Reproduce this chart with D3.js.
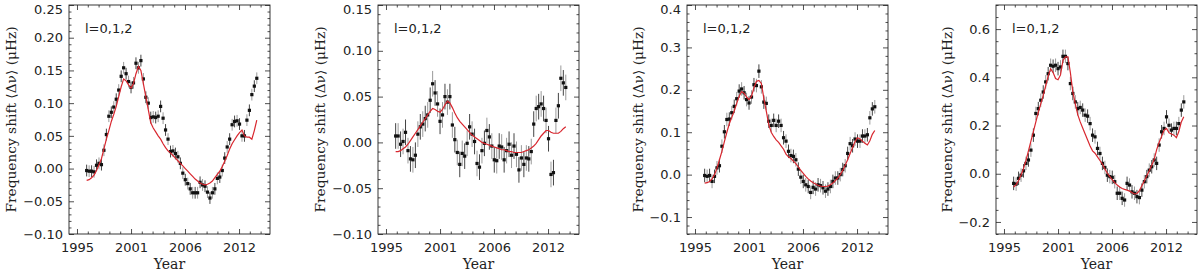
<!DOCTYPE html>
<html><head><meta charset="utf-8">
<script src="https://cdn.jsdelivr.net/npm/d3@7"></script>
<style>body{margin:0;background:#fff}svg{display:block}</style>
</head><body>
<svg id="c" width="1200" height="271"></svg>
<script>
// ---------- data ----------
const years = [1996.75,1997.00,1997.25,1997.50,1997.75,1998.00,1998.25,1998.50,1998.75,1999.00,
1999.25,1999.50,1999.75,2000.00,2000.25,2000.50,2000.75,2001.00,2001.25,2001.50,
2001.75,2002.00,2002.25,2002.50,2002.75,2003.00,2003.25,2003.50,2003.75,2004.00,
2004.25,2004.50,2004.75,2005.00,2005.25,2005.50,2005.75,2006.00,2006.25,2006.50,
2006.75,2007.00,2007.25,2007.50,2007.75,2008.00,2008.25,2008.50,2008.75,2009.00,
2009.25,2009.50,2009.75,2010.00,2010.25,2010.50,2010.75,2011.00,2011.25,2011.50,
2011.75,2012.00,2012.25,2012.50,2012.75,2013.00,2013.25,2013.50,2013.75,2014.00];

const xTickYears = [1995.77, 2001.25, 2006.72, 2012.20];
const xTickLabels = ["1995", "2001", "2006", "2012"];
const xMinorStep = 1.0951;
const xDomain = [1994.96, 2015.34];

const shift1 = [-0.003,-0.004,-0.004,-0.005,0.005,0.008,0.006,0.028,0.052,0.080,
0.086,0.094,0.106,0.120,0.141,0.154,0.145,0.133,0.124,0.131,
0.161,0.154,0.165,0.137,0.109,0.100,0.078,0.079,0.078,0.080,
0.095,0.077,0.059,0.045,0.026,0.027,0.023,0.018,0.008,-0.007,
-0.017,-0.023,-0.031,-0.037,-0.037,-0.037,-0.021,-0.025,-0.027,-0.036,
-0.045,-0.037,-0.031,-0.015,-0.013,-0.003,0.016,0.033,0.045,0.067,
0.072,0.073,0.068,0.050,0.050,0.074,0.089,0.113,0.126,0.138];
const model1 = [-0.018,-0.017,-0.014,-0.010,-0.003,0.006,0.015,0.030,0.045,0.058,
0.072,0.083,0.095,0.110,0.125,0.137,0.134,0.128,0.123,0.130,
0.145,0.156,0.150,0.130,0.110,0.090,0.070,0.062,0.056,0.050,
0.045,0.038,0.032,0.027,0.024,0.020,0.016,0.012,0.008,0.004,
0.000,-0.004,-0.008,-0.012,-0.016,-0.019,-0.022,-0.024,-0.025,-0.024,
-0.022,-0.019,-0.014,-0.009,-0.004,0.003,0.011,0.020,0.030,0.038,
0.044,0.050,0.055,0.059,0.050,0.048,0.048,0.045,0.058,0.074];

const shift2 = [0.007,0.007,-0.002,0.001,0.011,-0.009,-0.018,-0.019,-0.014,0.009,
0.017,0.020,0.026,0.030,0.046,0.064,0.054,0.042,0.023,0.030,
0.050,0.044,0.050,0.019,0.003,-0.011,-0.024,-0.012,-0.015,-0.001,
0.017,0.009,0.001,-0.023,-0.027,-0.009,-0.001,0.013,0.006,-0.004,
-0.019,-0.020,-0.004,-0.005,-0.019,-0.009,-0.002,-0.014,-0.004,-0.013,
-0.030,-0.017,-0.024,-0.017,-0.018,-0.010,0.020,0.037,0.039,0.042,
0.037,0.024,0.004,-0.035,-0.033,0.024,0.040,0.070,0.065,0.060];
const model2 = [-0.010,-0.010,-0.009,-0.007,-0.005,-0.002,0.002,0.006,0.010,0.014,
0.018,0.022,0.026,0.030,0.034,0.037,0.036,0.034,0.033,0.036,
0.041,0.045,0.043,0.038,0.032,0.027,0.023,0.020,0.017,0.014,
0.011,0.008,0.006,0.004,0.002,0.000,-0.001,-0.002,-0.003,-0.004,
-0.005,-0.006,-0.007,-0.008,-0.008,-0.009,-0.010,-0.010,-0.011,-0.011,
-0.011,-0.011,-0.010,-0.009,-0.008,-0.006,-0.004,-0.001,0.003,0.007,
0.010,0.013,0.013,0.011,0.010,0.010,0.010,0.012,0.015,0.017];

const shift3 = [-0.002,-0.004,-0.002,-0.016,-0.004,0.016,0.021,0.067,0.101,0.130,
0.131,0.146,0.161,0.179,0.197,0.202,0.193,0.177,0.169,0.183,
0.212,0.210,0.244,0.207,0.171,0.168,0.126,0.116,0.128,0.116,
0.126,0.116,0.087,0.079,0.055,0.045,0.043,0.035,0.013,-0.006,
-0.016,-0.024,-0.028,-0.042,-0.030,-0.034,-0.024,-0.026,-0.031,-0.039,
-0.034,-0.028,-0.016,-0.008,-0.008,0.000,0.012,0.021,0.050,0.073,
0.068,0.084,0.079,0.079,0.091,0.091,0.094,0.134,0.155,0.160];
const model3 = [-0.020,-0.019,-0.016,-0.010,0.000,0.015,0.035,0.055,0.078,0.100,
0.120,0.135,0.150,0.168,0.185,0.196,0.192,0.183,0.177,0.185,
0.205,0.220,0.222,0.215,0.180,0.150,0.118,0.100,0.090,0.082,
0.076,0.068,0.060,0.048,0.042,0.038,0.032,0.026,0.018,0.010,
0.003,-0.004,-0.010,-0.015,-0.019,-0.022,-0.025,-0.027,-0.028,-0.028,
-0.027,-0.024,-0.020,-0.014,-0.008,0.000,0.010,0.022,0.035,0.050,
0.064,0.078,0.087,0.084,0.079,0.074,0.070,0.080,0.095,0.104];

const shift4 = [-0.040,-0.043,-0.019,-0.006,0.012,0.043,0.057,0.098,0.160,0.250,
0.270,0.305,0.339,0.381,0.415,0.450,0.446,0.450,0.436,0.443,
0.487,0.487,0.457,0.374,0.333,0.298,0.270,0.275,0.264,0.243,
0.239,0.208,0.160,0.153,0.105,0.084,0.043,0.026,-0.006,-0.012,
-0.015,-0.033,-0.081,-0.081,-0.102,-0.109,-0.040,-0.047,-0.075,-0.081,
-0.095,-0.099,-0.068,-0.033,-0.012,0.015,0.029,0.057,0.043,0.119,
0.174,0.188,0.236,0.201,0.181,0.188,0.188,0.208,0.264,0.298];
const model4 = [-0.055,-0.045,-0.028,-0.005,0.022,0.055,0.095,0.135,0.175,0.215,
0.255,0.290,0.325,0.365,0.405,0.435,0.420,0.395,0.390,0.410,
0.470,0.485,0.485,0.420,0.340,0.290,0.245,0.215,0.190,0.165,
0.140,0.115,0.095,0.085,0.070,0.055,0.040,0.020,0.002,-0.012,
-0.025,-0.037,-0.047,-0.055,-0.061,-0.065,-0.068,-0.072,-0.078,-0.084,
-0.082,-0.070,-0.050,-0.030,-0.008,0.012,0.035,0.060,0.100,0.130,
0.155,0.180,0.188,0.170,0.165,0.160,0.150,0.175,0.215,0.236];

const errors = [0.009, 0.014, 0.016, 0.028];
const shifts = [shift1, shift2, shift3, shift4];
const models = [model1, model2, model3, model4];
const yDomains = [[-0.10, 0.25], [-0.10, 0.15], [-0.14, 0.40], [-0.25, 0.70]];
const yTickValues = [
  [-0.10,-0.05,0.00,0.05,0.10,0.15,0.20,0.25],
  [-0.10,-0.05,0.00,0.05,0.10,0.15],
  [-0.1,0.0,0.1,0.2,0.3,0.4],
  [-0.2,0.0,0.2,0.4,0.6]
];
const yTickFormats = [".2f", ".2f", ".1f", ".1f"];
const yMinorSteps = [0.01, 0.01, 0.02, 0.05];
const labelText = "l=0,1,2";
const yTitle = "Frequency shift \u27E8\u0394\u03BD\u27E9 (\u03BCHz)";
const xTitle = "Year";

// ---------- layout ----------
const boxLefts = [69, 378, 687, 996];
const boxW = 201, boxTop = 5, boxBottom = 234;
const titleOffsets = [58, 58, 49, 49];
const FONT = "'DejaVu Sans', sans-serif";
const SERIF = "'DejaVu Serif', serif";
const INK = "#222";

const svg = d3.select("#c");

function minorValues(domain, step, majors) {
  const out = [];
  const start = Math.ceil(domain[0] / step - 1e-6);
  for (let k = start; k * step <= domain[1] + 1e-9; k++) {
    const v = +(k * step).toFixed(6);
    if (!majors.some(m => Math.abs(m - v) < step / 10)) out.push(v);
  }
  return out;
}

shifts.forEach((shift, p) => {
  const L = boxLefts[p], R = L + boxW;
  const x = d3.scaleLinear().domain(xDomain).range([L, R]);
  const y = d3.scaleLinear().domain(yDomains[p]).range([boxBottom, boxTop]);
  const g = svg.append("g");

  const xMinor = [];
  for (let k = 1; xTickYears[0] + k * xMinorStep <= xDomain[1]; k++) {
    if (k % 5 !== 0) xMinor.push(xTickYears[0] + k * xMinorStep);
  }
  const yMinor = minorValues(yDomains[p], yMinorSteps[p], yTickValues[p]);

  const styleAxis = sel => {
    sel.select(".domain").remove();
    sel.selectAll(".tick line").attr("stroke", INK).attr("stroke-width", 0.8);
    sel.selectAll(".tick text").attr("fill", INK).style("font-family", FONT).style("font-size", "13px");
  };

  g.append("g").attr("transform", `translate(0,${boxBottom})`)
    .call(d3.axisBottom(x).tickValues(xTickYears).tickFormat((d, i) => xTickLabels[i]).tickSize(-5).tickPadding(9))
    .call(styleAxis);
  g.append("g").attr("transform", `translate(0,${boxBottom})`)
    .call(d3.axisBottom(x).tickValues(xMinor).tickFormat("").tickSize(-2.5)).call(styleAxis);
  g.append("g").attr("transform", `translate(0,${boxTop})`)
    .call(d3.axisTop(x).tickValues(xTickYears).tickFormat("").tickSize(-5)).call(styleAxis);
  g.append("g").attr("transform", `translate(0,${boxTop})`)
    .call(d3.axisTop(x).tickValues(xMinor).tickFormat("").tickSize(-2.5)).call(styleAxis);

  const left = g.append("g").attr("transform", `translate(${L},0)`)
    .call(d3.axisLeft(y).tickValues(yTickValues[p]).tickFormat(d3.format(yTickFormats[p])).tickSize(-5).tickPadding(6))
    .call(styleAxis);
  // keep the top-most label inside the picture
  left.selectAll(".tick text").attr("dy", d => y(d) < 11 ? "0.62em" : "0.32em");
  g.append("g").attr("transform", `translate(${L},0)`)
    .call(d3.axisLeft(y).tickValues(yMinor).tickFormat("").tickSize(-2.5)).call(styleAxis);
  g.append("g").attr("transform", `translate(${R},0)`)
    .call(d3.axisRight(y).tickValues(yTickValues[p]).tickFormat("").tickSize(-5)).call(styleAxis);
  g.append("g").attr("transform", `translate(${R},0)`)
    .call(d3.axisRight(y).tickValues(yMinor).tickFormat("").tickSize(-2.5)).call(styleAxis);

  g.append("rect").attr("x", L).attr("y", boxTop).attr("width", boxW).attr("height", boxBottom - boxTop)
    .attr("fill", "none").attr("stroke", INK).attr("stroke-width", 0.9);

  const err = errors[p];
  g.append("g").selectAll("line").data(shift).join("line")
    .attr("x1", (d, i) => x(years[i])).attr("x2", (d, i) => x(years[i]))
    .attr("y1", d => y(d - err)).attr("y2", d => y(d + err))
    .attr("stroke", (d, i) => i % 2 ? "#9a9a9a" : "#444").attr("stroke-width", 1);

  g.append("g").selectAll("rect").data(shift).join("rect")
    .attr("x", (d, i) => x(years[i]) - 1.6).attr("y", d => y(d) - 1.6)
    .attr("width", 3.2).attr("height", 3.2).attr("fill", "#111");

  g.append("path").datum(models[p])
    .attr("d", d3.line().x((d, i) => x(years[i])).y(d => y(d)))
    .attr("fill", "none").attr("stroke", "#d8262e").attr("stroke-width", 1.2);

  g.append("text").attr("x", L + 16).attr("y", 33).text(labelText)
    .attr("fill", INK).style("font-family", FONT).style("font-size", "13px");

  g.append("text").attr("transform", `translate(${L - titleOffsets[p]},${(boxTop + boxBottom) / 2}) rotate(-90)`)
    .attr("text-anchor", "middle").attr("dominant-baseline", "central")
    .attr("textLength", 186).attr("lengthAdjust", "spacingAndGlyphs")
    .attr("fill", INK).style("font-family", SERIF).style("font-size", "13px").text(yTitle);
  g.append("text").attr("x", (L + R) / 2).attr("y", 269).attr("text-anchor", "middle")
    .attr("fill", INK).style("font-family", SERIF).style("font-size", "14px").text(xTitle);
});
</script>
</body></html>
